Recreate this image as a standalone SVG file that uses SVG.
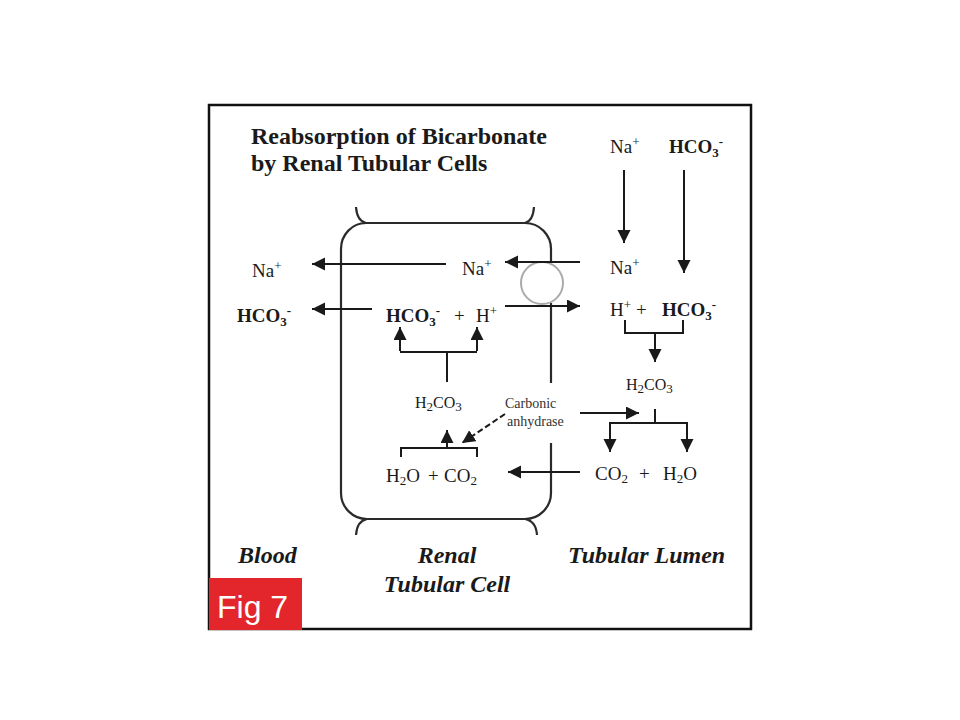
<svg xmlns="http://www.w3.org/2000/svg" width="960" height="720" viewBox="0 0 960 720">
<style>
.t{font-family:"Liberation Serif","Times New Roman",serif;fill:#1a1a1a}
.lb{font-size:19px}
.b{font-weight:bold}
.s{font-size:13px}
.h2{font-size:16px}
.ca{font-size:14px;fill:#333}
.sec{font-size:24px;font-weight:bold;font-style:italic}
.ttl{font-size:24px;font-weight:bold}
.ln{stroke:#1a1a1a;stroke-width:2;fill:none}
.cell{stroke:#2a2a2a;stroke-width:2.2;fill:none}
</style>
<defs>
<marker id="ah" markerUnits="userSpaceOnUse" markerWidth="14" markerHeight="14" refX="13" refY="6.5" orient="auto">
<path d="M0,0 L13,6.5 L0,13 z" fill="#1a1a1a"/>
</marker>
</defs>
<rect x="0" y="0" width="960" height="720" fill="#fff"/>
<rect x="209" y="105" width="542" height="524" fill="#fff" stroke="#111" stroke-width="2.5"/>

<g id="title">
<text class="t ttl" x="251" y="144">Reabsorption of Bicarbonate</text>
<text class="t ttl" x="251" y="171">by Renal Tubular Cells</text>
</g>

<g id="cell">
<path class="cell" d="M551,262 V249 A26,26 0 0 0 525,223 H366 A25,26 0 0 0 341,249 V493 A26,26 0 0 0 367,519 H525 A26,26 0 0 0 551,493 V443"/>
<path class="cell" d="M551,303 V383"/>
<path class="cell" d="M356,207 Q357,221 366,223 M534,207 Q533,221 525,223 M367,519 Q357,521 356,535 M525,519 Q536,521 537,535"/>
</g>
<g id="transporter">
<circle cx="542" cy="283" r="21" fill="none" stroke="#aaa" stroke-width="2"/>
</g>

<g id="connectors">
<line class="ln" x1="624" y1="170" x2="624" y2="243" marker-end="url(#ah)"/>
<line class="ln" x1="684" y1="170" x2="684" y2="273" marker-end="url(#ah)"/>
<line class="ln" x1="580" y1="262" x2="505" y2="262" marker-end="url(#ah)"/>
<line class="ln" x1="446" y1="264" x2="312" y2="264" marker-end="url(#ah)"/>
<line class="ln" x1="505" y1="306" x2="580" y2="306" marker-end="url(#ah)"/>
<line class="ln" x1="372" y1="309" x2="312" y2="309" marker-end="url(#ah)"/>
<path class="ln" d="M447,382 V352 M400,352 H477"/>
<line class="ln" x1="400" y1="351" x2="400" y2="327" marker-end="url(#ah)"/>
<line class="ln" x1="477" y1="351" x2="477" y2="327" marker-end="url(#ah)"/>
<path class="ln" d="M401,457 V448 H477 V457"/>
<line class="ln" x1="447" y1="448" x2="447" y2="430" marker-end="url(#ah)"/>
<line class="ln" x1="505" y1="414" x2="462" y2="443" stroke-dasharray="6,3" marker-end="url(#ah)"/>
<line class="ln" x1="580" y1="413" x2="639" y2="413" stroke-width="2.6" marker-end="url(#ah)"/>
<path class="ln" d="M625,320 V333 H683 V320"/>
<line class="ln" x1="655" y1="333" x2="655" y2="362" marker-end="url(#ah)"/>
<path class="ln" d="M655,409 V423 M610,423 H687"/>
<line class="ln" x1="610" y1="422" x2="610" y2="452" marker-end="url(#ah)"/>
<line class="ln" x1="687" y1="422" x2="687" y2="452" marker-end="url(#ah)"/>
<line class="ln" x1="580" y1="472" x2="508" y2="472" marker-end="url(#ah)"/>
</g>

<g id="lumen-top">
<text class="t lb" x="610" y="153">Na<tspan class="s" dy="-7">+</tspan></text>
<text class="t lb b" x="669" y="153">HCO<tspan class="s" dy="4">3</tspan><tspan class="s" dy="-11">-</tspan></text>
</g>
<g id="blood-ions">
<text class="t lb" x="252" y="277">Na<tspan class="s" dy="-7">+</tspan></text>
<text class="t lb b" x="237" y="322">HCO<tspan class="s" dy="4">3</tspan><tspan class="s" dy="-11">-</tspan></text>
</g>
<g id="cell-ions">
<text class="t lb" x="462" y="275">Na<tspan class="s" dy="-7">+</tspan></text>
<text class="t lb b" x="386" y="322">HCO<tspan class="s" dy="4">3</tspan><tspan class="s" dy="-11">-</tspan></text>
<text class="t lb" x="454" y="322">+</text>
<text class="t lb" x="476" y="322">H<tspan class="s" dy="-7">+</tspan></text>
</g>
<g id="lumen-ions">
<text class="t lb" x="610" y="274">Na<tspan class="s" dy="-7">+</tspan></text>
<text class="t lb" x="610" y="316">H<tspan class="s" dy="-7">+</tspan></text>
<text class="t lb" x="636" y="316">+</text>
<text class="t lb b" x="662" y="316">HCO<tspan class="s" dy="4">3</tspan><tspan class="s" dy="-11">-</tspan></text>
</g>
<g id="cell-h2co3">
<text class="t h2" x="415" y="408">H<tspan class="s" dy="3">2</tspan><tspan dy="-3">CO</tspan><tspan class="s" dy="3">3</tspan></text>
</g>
<g id="lumen-h2co3">
<text class="t h2" x="626" y="390">H<tspan class="s" dy="3">2</tspan><tspan dy="-3">CO</tspan><tspan class="s" dy="3">3</tspan></text>
</g>
<g id="carbonic-anhydrase">
<text class="t ca" x="505" y="408">Carbonic</text>
<text class="t ca" x="507" y="426">anhydrase</text>
</g>
<g id="cell-h2o-co2">
<text class="t lb" x="386" y="482">H<tspan class="s" dy="3">2</tspan><tspan dy="-3">O</tspan></text>
<text class="t lb" x="428" y="482">+</text>
<text class="t lb" x="444" y="482">CO<tspan class="s" dy="3">2</tspan></text>
</g>
<g id="lumen-co2-h2o">
<text class="t lb" x="595" y="480">CO<tspan class="s" dy="3">2</tspan></text>
<text class="t lb" x="639" y="480">+</text>
<text class="t lb" x="663" y="480">H<tspan class="s" dy="3">2</tspan><tspan dy="-3">O</tspan></text>
</g>

<g id="section-labels">
<text class="t sec" x="238" y="563">Blood</text>
<text class="t sec" x="447" y="563" text-anchor="middle">Renal</text>
<text class="t sec" x="447" y="592" text-anchor="middle">Tubular Cell</text>
<text class="t sec" x="568" y="563">Tubular Lumen</text>
</g>

<g id="fig-label">
<rect x="209" y="578" width="93" height="52" fill="#e3262b"/>
<text x="217" y="618" font-family="Liberation Sans, Arial, sans-serif" font-size="32" fill="#fff">Fig 7</text>
</g>
</svg>
